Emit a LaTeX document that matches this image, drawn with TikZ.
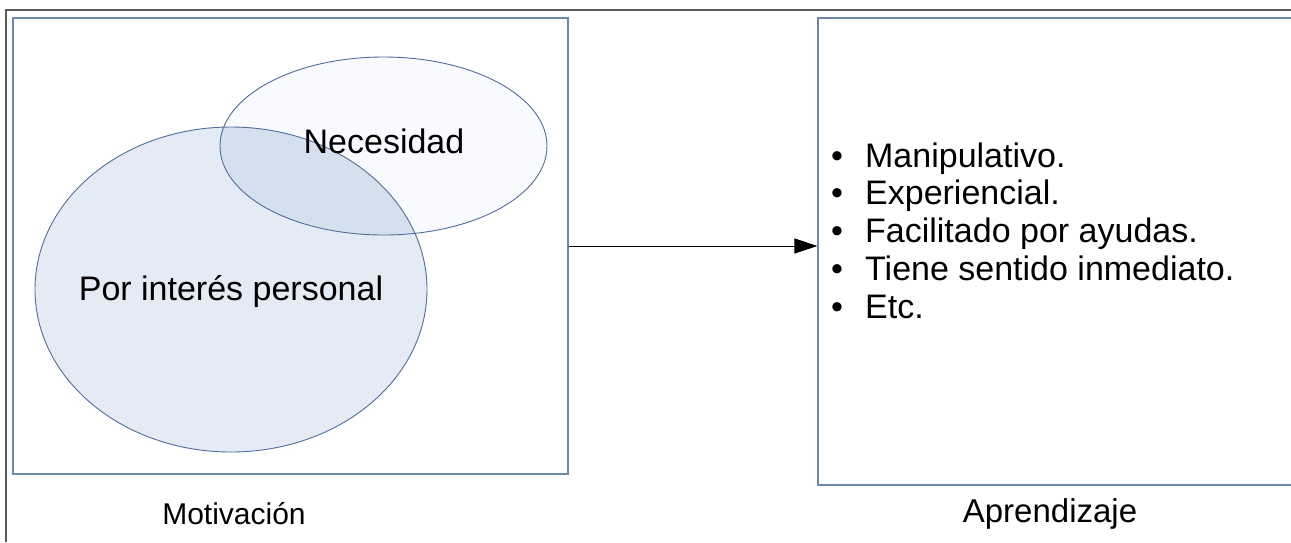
\documentclass[tikz,border=0pt]{standalone}
\usepackage{fontspec}
\setmainfont{Liberation Sans}
\usepackage{tikz}
\usetikzlibrary{arrows.meta,shapes.geometric}

\definecolor{marco}{RGB}{90,90,90}
\definecolor{borde}{RGB}{111,136,171}
\definecolor{linea}{RGB}{79,110,154}
\definecolor{azulgrande}{RGB}{228,235,245}
\definecolor{azulchico}{RGB}{248,250,253}
\definecolor{azulcruce}{RGB}{213,224,238}

\tikzset{
	caja/.style={draw=borde, line width=1.1pt, inner sep=0pt},
	texto/.style={anchor=base, inner sep=0pt, text=black},
}

\begin{document}
\begin{tikzpicture}[x=1pt,y=-1pt]
	\useasboundingbox (0,0) rectangle (1291,542);
	%\draw[help lines] (0,0) grid[step=50] (1291,542);
	\draw[marco, line width=1.6pt] (6,542) -- (6,10) -- (1291,10);
	\node[caja, minimum width=555pt, minimum height=456pt] (motiv) at (290.5,246) {};
	\node[caja, minimum width=500pt, minimum height=467pt] (aprend) at (1068,251.5) {};
	% conjuntos
	\fill[azulgrande] (231,289.5) ellipse [x radius=196, y radius=162.5];
	\fill[azulchico] (383.5,146) ellipse [x radius=163.5, y radius=89];
	\begin{scope}
		\clip (231,289.5) ellipse [x radius=196, y radius=162.5];
		\fill[azulcruce] (383.5,146) ellipse [x radius=163.5, y radius=89];
	\end{scope}
	\draw[linea, line width=0.9pt] (231,289.5) ellipse [x radius=196, y radius=162.5];
	\draw[linea, line width=0.9pt] (383.5,146) ellipse [x radius=163.5, y radius=89];
	\node[texto, font=\fontsize{34}{40}\selectfont] (necesidad) at (384,153) {Necesidad};
	\node[texto, font=\fontsize{34}{40}\selectfont] (interes) at (231,300) {Por interés personal};
	% lista (base = ultima linea)
	\node[anchor=base west, inner sep=0pt, align=left, font=\fontsize{34}{37.7}\selectfont] (lista) at (831,318)
		{\makebox[34pt][l]{•}Manipulativo.\\
		\makebox[34pt][l]{•}Experiencial.\\
		\makebox[34pt][l]{•}Facilitado por ayudas.\\
		\makebox[34pt][l]{•}Tiene sentido inmediato.\\
		\makebox[34pt][l]{•}Etc.};
	\draw[-{Triangle[length=23pt,width=15pt]}, line width=1pt] (motiv.east) -- (motiv.east -| aprend.west);
	\node[texto, font=\fontsize{30}{36}\selectfont] (titmotiv) at (234,524) {Motivación};
	\node[texto, font=\fontsize{33}{38}\selectfont] (titaprend) at (1050,522) {Aprendizaje};
\end{tikzpicture}
\end{document}
